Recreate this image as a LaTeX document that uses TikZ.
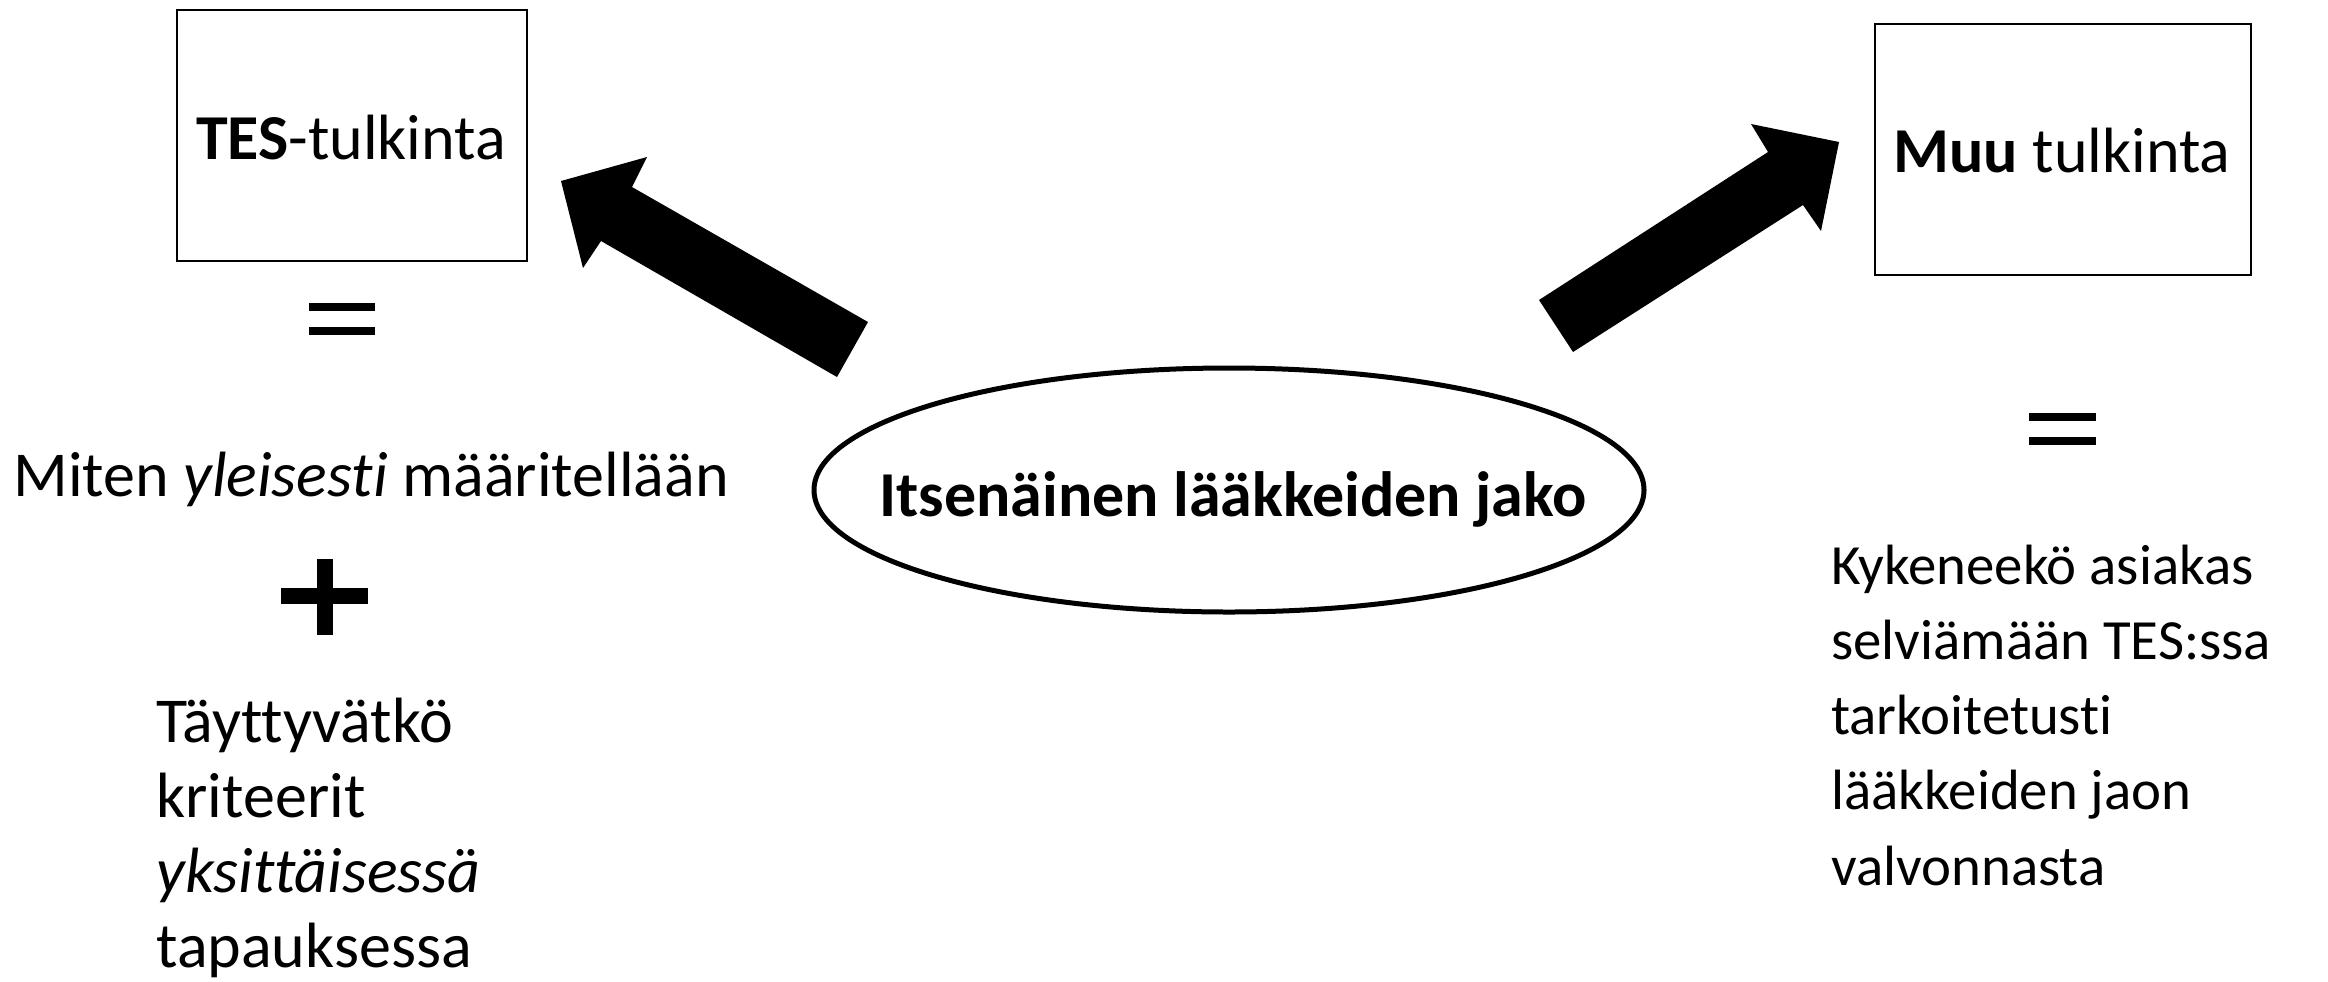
\documentclass[tikz,border=0pt]{standalone}
\usepackage{fontspec}
\setmainfont{Carlito}[Ligatures={NoCommon}]
\begin{document}
\begin{tikzpicture}[x=0.5pt,y=-0.5pt,
  box/.style={draw,line width=1pt,inner sep=0pt},
  boxtxt/.style={inner sep=0pt,font=\fontsize{32}{38}\selectfont,anchor=base},
  txt/.style={inner sep=0pt,font=\fontsize{32}{37.4}\selectfont,align=left},
  blockarrow/.style={fill=black,draw=none}]
\useasboundingbox (0,0) rectangle (2328,981);
% boxes
\node[box,minimum width=175pt,minimum height=125.5pt] (tes) at (352,135.5) {};
\node[boxtxt] (testxt) at (351,159) {\textbf{TES}-tulkinta};
\node[box,minimum width=188pt,minimum height=125.5pt] (muu) at (2063,149.5) {};
\node[boxtxt] (muutxt) at (2062,172) {\textbf{Muu} tulkinta};
% ellipse
\draw[line width=2.5pt] (1229,490) ellipse [x radius=415, y radius=122];
\node[boxtxt,font=\bfseries\fontsize{32}{38}\selectfont] (center) at (1233,516) {Itsenäinen lääkkeiden jako};
% left arrow
\coordinate (la1) at (868,322);
\coordinate (la2) at (837,377);
\draw[blockarrow] (la1) -- (632,187) -- (647,157) -- (561,181) -- (583,268) -- (601,241) -- (la2) -- cycle;
% right arrow
\coordinate (ra1) at (1539,300);
\coordinate (ra2) at (1573,352);
\draw[blockarrow] (ra1) -- (1768,152) -- (1751,124) -- (1839,142) -- (1821,231) -- (1803,205) -- (ra2) -- cycle;
% equals and plus
\fill (309,303) rectangle (375,311);
\fill (309,327) rectangle (375,335);
\fill (2029,413) rectangle (2096,421);
\fill (2029,437) rectangle (2096,445);
\fill (281,588) rectangle (368,604);
\fill (317,559) rectangle (333,635);
% texts
\node[txt,anchor=base] (miten) at (371,496) {Miten \textit{yleisesti} määritellään};
\node[txt,anchor=base west] (tayt) at (156,967) {Täyttyvätkö\\kriteerit\\\textit{yksittäisessä}\\tapauksessa};
\node[txt,font=\fontsize{28.4}{37.6}\selectfont,anchor=base west] (kyk) at (1831,885) {Kykeneekö asiakas\\selviämään TES:ssa\\tarkoitetusti\\lääkkeiden jaon\\valvonnasta};
\end{tikzpicture}
\end{document}
